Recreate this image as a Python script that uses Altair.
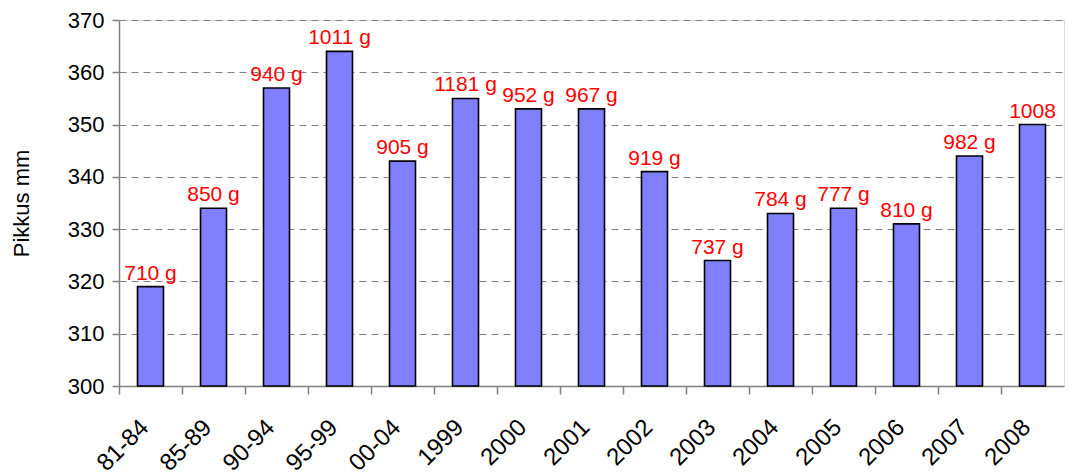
import altair as alt
import pandas as pd

categories = ["81-84", "85-89", "90-94", "95-99", "00-04", "1999", "2000", "2001",
              "2002", "2003", "2004", "2005", "2006", "2007", "2008"]
lengths = [319, 334, 357, 364, 343, 355, 353, 353, 341, 324, 333, 334, 331, 344, 350]
weights = ["710 g", "850 g", "940 g", "1011 g", "905 g", "1181 g", "952 g", "967 g",
           "919 g", "737 g", "784 g", "777 g", "810 g", "982 g", "1008\ng"]

df = pd.DataFrame({"cat": categories, "len": lengths, "lab": weights})

FONT = "Liberation Sans"

x = alt.X("cat:N", sort=categories, title=None,
          scale=alt.Scale(paddingInner=0, paddingOuter=0),
          axis=alt.Axis(labelAngle=-45, labelFontSize=24, labelFont=FONT, labelColor="black",
                        bandPosition=0, tickSize=8, tickColor="#808080", tickWidth=1.5,
                        domainColor="#808080", domainWidth=1.5, labelPadding=21,
                        labelOffset=-14, grid=False))
y = alt.Y("len:Q", title="Pikkus mm",
          scale=alt.Scale(domain=[300, 370], nice=False, zero=False),
          axis=alt.Axis(values=list(range(300, 371, 10)), labelFontSize=22, labelFont=FONT,
                        labelColor="black", titleFontSize=22, titleFont=FONT,
                        titleFontWeight="normal", titleColor="black", titlePadding=34,
                        tickSize=7, tickColor="#808080", tickWidth=1.5, labelPadding=8,
                        domainColor="#808080", domainWidth=1.5,
                        grid=True, gridColor="#808080", gridDash=[7, 5], gridWidth=1.2))

labels = alt.Chart(df).mark_text(color="red", fontSize=21, font=FONT, baseline="alphabetic",
                                 dy=-7, lineBreak="\n", lineHeight=24).encode(
    x=x, y=y, text="lab:N")

bars = alt.Chart(df).mark_bar(size=26, color="#8080FF", stroke="black", strokeWidth=1.6).encode(
    x=x, y=y, y2=alt.datum(300))

chart = alt.layer(labels, bars).properties(
    width=945, height=366,
    autosize=alt.AutoSizeParams(type="none"),
    padding={"left": 111, "top": 12, "right": 5, "bottom": 95},
).configure_view(stroke=None).configure(background="white")

chart.save("out.html", embed_options={"renderer": "svg", "actions": False})
